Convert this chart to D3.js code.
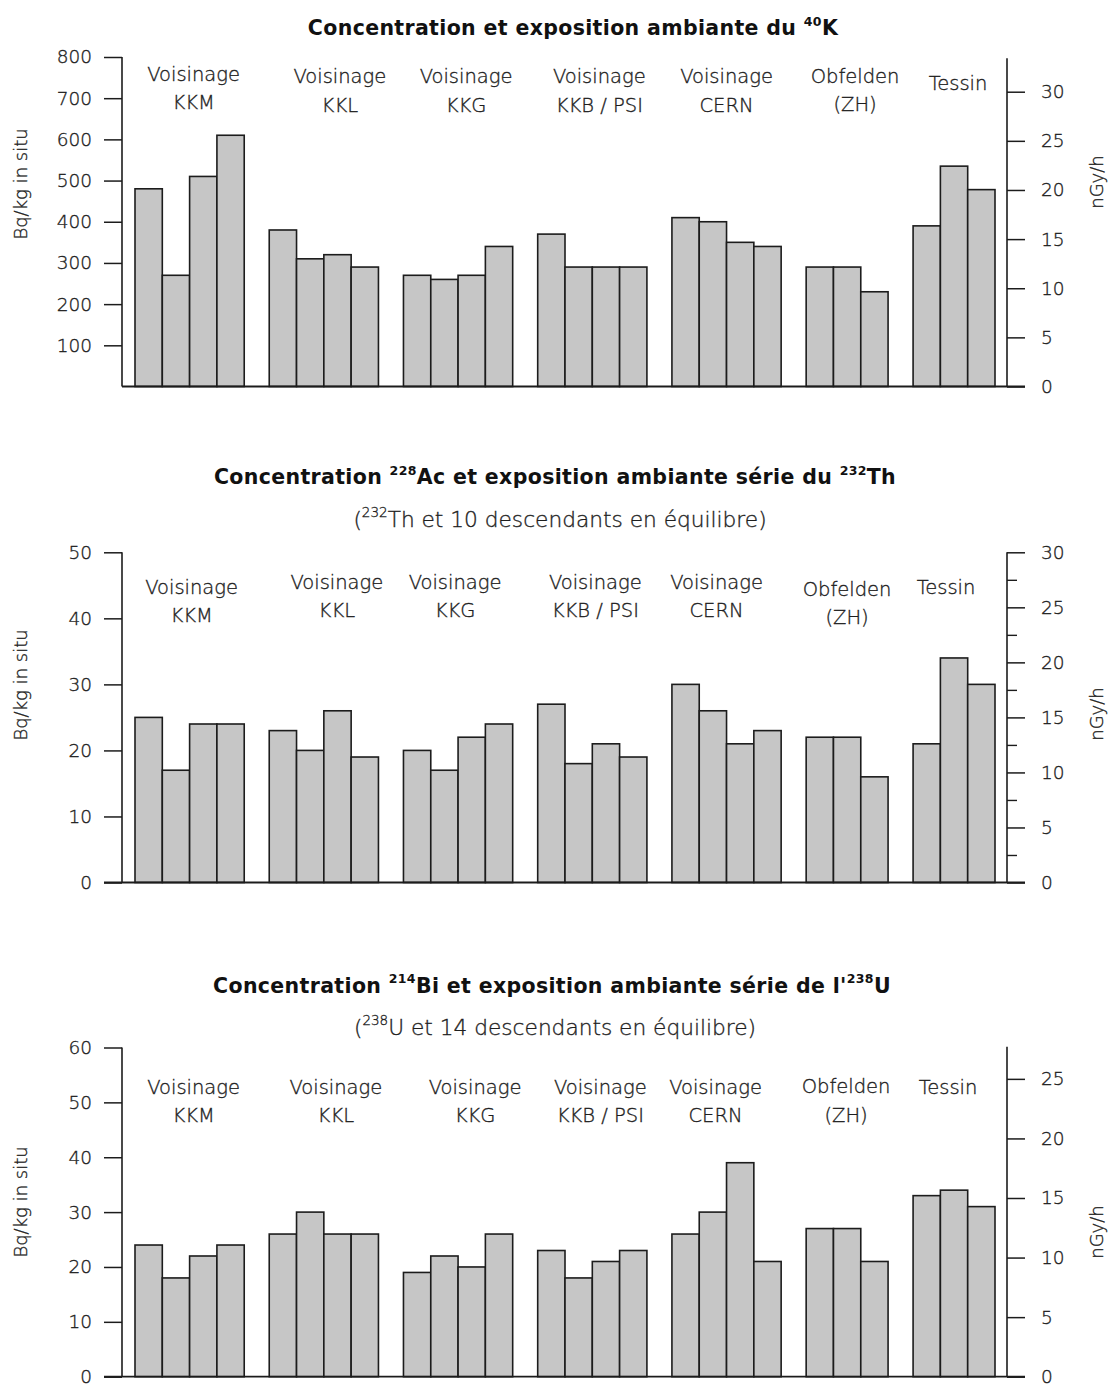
<!DOCTYPE html>
<html>
<head>
<meta charset="utf-8">
<script src="https://cdn.jsdelivr.net/npm/d3@7"></script>
<style>
  body { margin: 0; background: #ffffff; }
  svg { display: block; }
  text { font-family: "DejaVu Sans", "Liberation Sans", sans-serif; }
  .light { font-weight: 300; fill: #1e1e1e; stroke: #1e1e1e; stroke-width: 0.35px; }
</style>
</head>
<body>
<svg id="chart" width="1109" height="1384"></svg>
<script>
// Measurement sites (label lines)
const sites = [
  ["Voisinage", "KKM"],
  ["Voisinage", "KKL"],
  ["Voisinage", "KKG"],
  ["Voisinage", "KKB / PSI"],
  ["Voisinage", "CERN"],
  ["Obfelden", "(ZH)"],
  ["Tessin"]
];

// In-situ concentrations (Bq/kg), one inner array per site
const k40Bq = [
  [480, 270, 510, 610],
  [380, 310, 320, 290],
  [270, 260, 270, 340],
  [370, 290, 290, 290],
  [410, 400, 350, 340],
  [290, 290, 230],
  [390, 535, 478]
];
const ac228Bq = [
  [25, 17, 24, 24],
  [23, 20, 26, 19],
  [20, 17, 22, 24],
  [27, 18, 21, 19],
  [30, 26, 21, 23],
  [22, 22, 16],
  [21, 34, 30]
];
const bi214Bq = [
  [24, 18, 22, 24],
  [26, 30, 26, 26],
  [19, 22, 20, 26],
  [23, 18, 21, 23],
  [26, 30, 39, 21],
  [27, 27, 21],
  [33, 34, 31]
];

// Tick values
const k40BqTicks = [100, 200, 300, 400, 500, 600, 700, 800];
const k40NGyTicks = [0, 5, 10, 15, 20, 25, 30];
const thBqTicks = [0, 10, 20, 30, 40, 50];
const thNGyTicks = [0, 5, 10, 15, 20, 25, 30];
const thNGyMinorTicks = [2.5, 7.5, 12.5, 17.5, 22.5, 27.5];
const uBqTicks = [0, 10, 20, 30, 40, 50, 60];
const uNGyTicks = [0, 5, 10, 15, 20, 25];

// Left and right vertical-axis titles
const leftTitle = "Bq/kg in situ";
const rightTitle = "nGy/h";

// Panel layout
const panels = [
  {
    values: k40Bq,
    title: [{t: "Concentration et exposition ambiante du "}, {t: "40", sup: true}, {t: "K"}],
    titleX: 573, titleY: 35,
    subtitle: null,
    bq: {max: 800, ticks: k40BqTicks, base: 386.5, top: 57, zeroTick: false},
    ngy: {max: 33.4, top: 58.3, ticks: k40NGyTicks, minor: []},
    labelDx: [4, 16, 8, 7, 0, 8, 4],
    labelY: [81, 83.3, 83.3, 83.3, 83.3, 82.7, 90],
    leftTitleY: 184, rightTitleY: 182
  },
  {
    values: ac228Bq,
    title: [{t: "Concentration "}, {t: "228", sup: true}, {t: "Ac et exposition ambiante série du "}, {t: "232", sup: true}, {t: "Th"}],
    titleX: 555, titleY: 484,
    subtitle: [{t: "("}, {t: "232", sup: true}, {t: "Th et 10 descendants en équilibre)"}],
    subtitleX: 560, subtitleY: 527,
    bq: {max: 50, ticks: thBqTicks, base: 882.5, top: 552.3, zeroTick: true},
    ngy: {max: 30, top: 552.3, ticks: thNGyTicks, minor: thNGyMinorTicks},
    labelDx: [2, 13, -3, 3, -10, 0, -8],
    labelY: [594, 589, 589, 589, 589, 596, 594],
    leftTitleY: 685, rightTitleY: 714
  },
  {
    values: bi214Bq,
    title: [{t: "Concentration "}, {t: "214", sup: true}, {t: "Bi et exposition ambiante série de l'"}, {t: "238", sup: true}, {t: "U"}],
    titleX: 552, titleY: 992.7,
    subtitle: [{t: "("}, {t: "238", sup: true}, {t: "U et 14 descendants en équilibre)"}],
    subtitleX: 555, subtitleY: 1035,
    bq: {max: 60, ticks: uBqTicks, base: 1376.7, top: 1047.5, zeroTick: true},
    ngy: {max: 27.7, top: 1046.7, ticks: uNGyTicks, minor: []},
    labelDx: [4, 12, 17, 8, -11, -1, -6],
    labelY: [1094, 1094, 1094, 1094, 1094, 1093.3, 1094],
    leftTitleY: 1202, rightTitleY: 1232
  }
];

const svg = d3.select("#chart");
const axisLeftX = 122, axisRightX = 1007;
const barsLeft = 135, barsRight = 995;
const tickLen = 18;
const ink = "#1c1c1c";
const barFill = "#c6c6c6";
const gapUnits = 0.916;   // gap between site groups, in bar widths

// Unit offsets of each group along x (bars are 1 unit wide)
function groupOffsets(values) {
  const offs = [];
  let acc = 0;
  values.forEach((g, i) => {
    offs.push(acc);
    acc += g.length + (i < values.length - 1 ? gapUnits : 0);
  });
  return {offs, total: acc};
}

// Text with raised mass numbers
function writeRich(sel, parts, size, supSize) {
  parts.forEach((p, i) => {
    const ts = sel.append("tspan").text(p.t);
    if (p.sup) {
      ts.attr("font-size", supSize).attr("dy", -size * 0.45);
    } else {
      ts.attr("font-size", size);
      if (i > 0 && parts[i - 1].sup) ts.attr("dy", size * 0.45);
    }
  });
}

panels.forEach(p => {
  const g = svg.append("g");
  const {offs, total} = groupOffsets(p.values);
  const x = d3.scaleLinear().domain([0, total]).range([barsLeft, barsRight]);
  const yBq = d3.scaleLinear().domain([0, p.bq.max]).range([p.bq.base, p.bq.top]);
  const yNGy = d3.scaleLinear().domain([0, p.ngy.max]).range([p.bq.base, p.ngy.top]);

  // Bars
  p.values.forEach((grp, gi) => {
    g.selectAll(null)
      .data(grp)
      .join("rect")
      .attr("x", (d, i) => x(offs[gi] + i))
      .attr("width", x(1) - x(0))
      .attr("y", d => yBq(d))
      .attr("height", d => yBq(0) - yBq(d))
      .attr("fill", barFill)
      .attr("stroke", ink)
      .attr("stroke-width", 1.6);
  });

  // Site labels
  p.values.forEach((grp, gi) => {
    const cx = x(offs[gi] + grp.length / 2) + p.labelDx[gi];
    sites[gi].forEach((line, li) => {
      g.append("text")
        .attr("class", "light")
        .attr("x", cx)
        .attr("y", p.labelY[gi] + li * 28.4)
        .attr("text-anchor", "middle")
        .attr("font-size", 19.5)
        .text(line);
    });
  });

  // Left axis (Bq/kg)
  const la = g.append("g").attr("transform", `translate(${axisLeftX},0)`)
    .call(d3.axisLeft(yBq).tickValues(p.bq.ticks).tickSize(tickLen).tickSizeOuter(0).tickPadding(12).tickFormat(d3.format("d")));
  la.select(".domain").remove();
  la.selectAll(".tick line").attr("stroke", ink).attr("stroke-width", 1.5);
  la.selectAll(".tick text").attr("class", "light").attr("font-size", 18.5)
    .attr("font-family", "DejaVu Sans, sans-serif");
  g.append("line").attr("x1", axisLeftX).attr("x2", axisLeftX)
    .attr("y1", yBq(p.bq.max)).attr("y2", yBq(0))
    .attr("stroke", ink).attr("stroke-width", 1.6);

  // Right axis (nGy/h)
  const ra = g.append("g").attr("transform", `translate(${axisRightX},0)`)
    .call(d3.axisRight(yNGy).tickValues(p.ngy.ticks).tickSize(tickLen).tickSizeOuter(0).tickPadding(16).tickFormat(d3.format("d")));
  ra.select(".domain").remove();
  ra.selectAll(".tick line").attr("stroke", ink).attr("stroke-width", 1.5);
  ra.selectAll(".tick text").attr("class", "light").attr("font-size", 18.5)
    .attr("font-family", "DejaVu Sans, sans-serif");
  if (p.ngy.minor.length) {
    const rm = g.append("g").attr("transform", `translate(${axisRightX},0)`)
      .call(d3.axisRight(yNGy).tickValues(p.ngy.minor).tickSize(10).tickSizeOuter(0).tickFormat(""));
    rm.select(".domain").remove();
    rm.selectAll(".tick line").attr("stroke", ink).attr("stroke-width", 1.4);
  }
  g.append("line").attr("x1", axisRightX).attr("x2", axisRightX)
    .attr("y1", yNGy(p.ngy.max)).attr("y2", yNGy(0))
    .attr("stroke", ink).attr("stroke-width", 1.6);

  // Baseline
  g.append("line")
    .attr("x1", p.bq.zeroTick ? axisLeftX - tickLen : axisLeftX)
    .attr("x2", axisRightX + tickLen)
    .attr("y1", yBq(0)).attr("y2", yBq(0))
    .attr("stroke", ink).attr("stroke-width", 1.8);

  // Title
  const tt = g.append("text").attr("x", p.titleX).attr("y", p.titleY)
    .attr("text-anchor", "middle").attr("font-weight", 700).attr("fill", "#111")
    .attr("letter-spacing", 0.35);
  writeRich(tt, p.title, 20.5, 12.5);

  if (p.subtitle) {
    const st = g.append("text").attr("class", "light")
      .attr("x", p.subtitleX).attr("y", p.subtitleY)
      .attr("text-anchor", "middle");
    writeRich(st, p.subtitle, 21.7, 13.5);
  }

  // Axis titles
  g.append("text").attr("class", "light")
    .attr("transform", `translate(27,${p.leftTitleY}) rotate(-90)`)
    .attr("text-anchor", "middle").attr("font-size", 18).text(leftTitle);
  g.append("text").attr("class", "light")
    .attr("transform", `translate(1103,${p.rightTitleY}) rotate(-90)`)
    .attr("text-anchor", "middle").attr("font-size", 18).text(rightTitle);
});
</script>
</body>
</html>
